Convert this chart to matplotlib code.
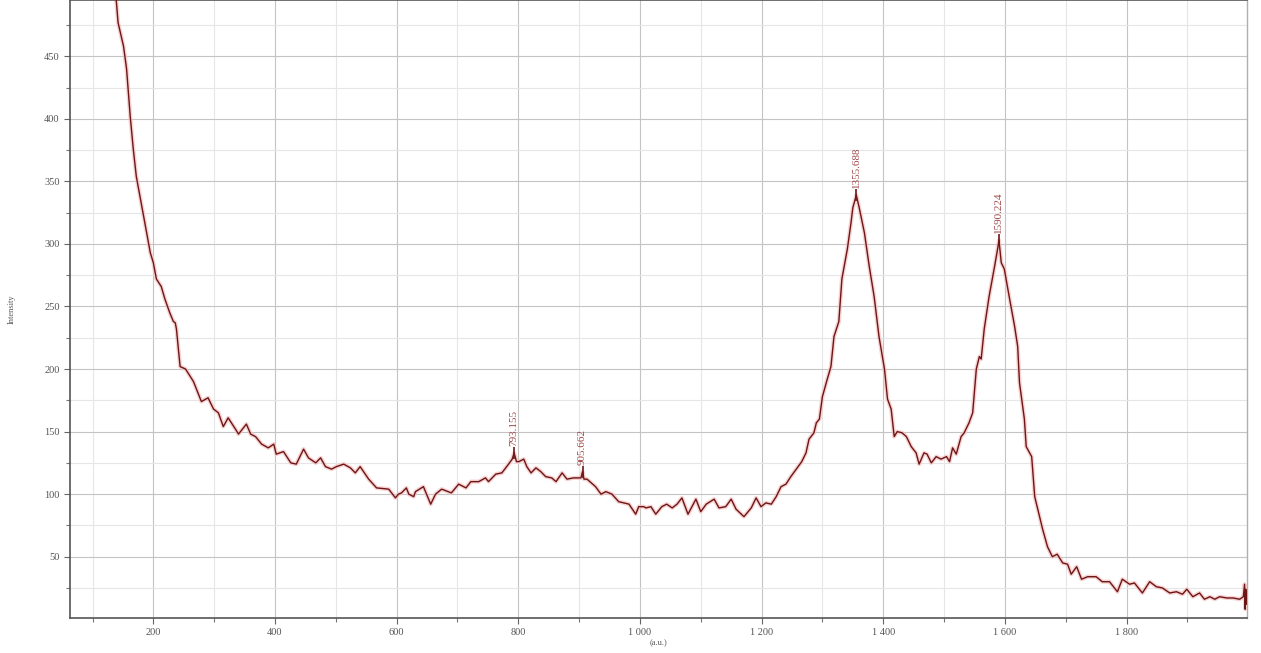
import matplotlib
matplotlib.use("Agg")
import matplotlib.pyplot as plt
from matplotlib.ticker import MultipleLocator, FuncFormatter

# Raman spectrum (wavenumber, intensity)
wavenumber = [
    130, 139, 142, 151, 156, 162, 167, 172, 180, 189, 195, 200, 205, 213, 219, 227, 233, 236, 238,
    244, 253, 266, 279, 290, 299, 307, 315, 323, 335, 340, 353, 360, 368, 378, 389, 398, 402, 414,
    426, 435, 447, 455, 467, 475, 483, 493, 501, 513, 524, 532, 540, 554, 567, 587, 598, 603, 608,
    616, 620, 628, 631, 644, 656, 664, 674, 690, 702, 714, 722, 735, 746, 751, 763, 773, 784, 790,
    793.155, 797, 801, 809, 814, 821, 829, 837, 845, 855, 862, 872, 880, 891, 903, 905.662, 908,
    913, 927, 936, 944, 954, 965, 982, 993, 998, 1006, 1010, 1018, 1026, 1036, 1044, 1053, 1061,
    1069, 1079, 1092, 1100, 1109, 1122, 1130, 1141, 1150, 1158, 1171, 1183, 1191, 1199, 1207, 1216,
    1224, 1232, 1240, 1248, 1257, 1266, 1273, 1278, 1286, 1290, 1295, 1300, 1308, 1314, 1319, 1327,
    1332, 1341, 1347, 1350, 1355.688, 1360, 1369, 1377, 1385, 1393, 1402, 1407, 1413, 1418, 1423,
    1431, 1438, 1446, 1454, 1459, 1467, 1472, 1479, 1487, 1495, 1504, 1509, 1514, 1520, 1528, 1533,
    1541, 1547, 1553, 1558, 1561, 1566, 1574, 1583, 1588, 1590.224, 1594, 1599, 1607, 1616, 1621,
    1624, 1632, 1635, 1644, 1649, 1654, 1662, 1670, 1678, 1686, 1695, 1703, 1709, 1718, 1726, 1736,
    1750, 1760, 1772, 1785, 1793, 1805, 1813, 1826, 1838, 1849, 1859, 1871, 1882, 1892, 1899, 1909,
    1920, 1928, 1937, 1945, 1953, 1965, 1975, 1986, 1992, 1994, 1995, 1996, 1997,
]
intensity = [
    540, 495, 477, 458, 440, 402, 376, 354, 333, 309, 293, 285, 272, 266, 256, 245, 238, 237, 232,
    202, 200, 190, 174, 177, 168, 165, 154, 161, 152, 148, 156, 148, 146, 140, 137, 140, 132, 134,
    125, 124, 136, 129, 125, 129, 122, 120, 122, 124, 121, 117, 122, 112, 105, 104, 97, 100, 101,
    105, 100, 98, 102, 106, 92, 100, 104, 101, 108, 105, 110, 110, 113, 110, 116, 117, 124, 128,
    133, 126, 126, 128, 122, 117, 121, 118, 114, 113, 110, 117, 112, 113, 113, 118, 112,
    112, 106, 100, 102, 100, 94, 92, 84, 90, 90, 89, 90, 84, 90, 92, 89, 92,
    97, 84, 96, 86, 92, 96, 89, 90, 96, 88, 82, 89, 97, 90, 93, 92,
    98, 106, 108, 114, 120, 126, 133, 144, 149, 157, 160, 178, 192, 202, 226, 238,
    272, 296, 317, 329, 339, 330, 309, 282, 258, 226, 200, 176, 168, 146, 150,
    149, 146, 138, 133, 124, 133, 132, 125, 130, 128, 130, 126, 137, 132, 146, 149,
    157, 165, 200, 210, 208, 232, 258, 282, 296, 303, 285, 280, 258, 234, 218,
    189, 160, 138, 130, 98, 88, 72, 58, 50, 52, 45, 44, 36, 42, 32, 34,
    34, 30, 30, 22, 32, 28, 29, 21, 30, 26, 25, 21, 22, 20, 24, 18,
    21, 16, 18, 16, 18, 17, 17, 16, 18, 28, 8, 24, 12,
]

peak_x = [793.155, 905.662, 1355.688, 1590.224]
peak_y = [133, 118, 339, 303]
peak_labels = ["793.155", "905.662", "1355.688", "1590.224"]

plt.rcParams['font.family'] = ['Liberation Serif', 'DejaVu Serif']

fig = plt.figure(figsize=(12.61, 6.53), dpi=100)
ax = fig.add_axes([70 / 1261, 35 / 653, 1177 / 1261, 618 / 653])

# light halo under the dark red trace
ax.plot(wavenumber, intensity, color='#f5c0c0', lw=3.0, alpha=0.7, zorder=2)
ax.plot(wavenumber, intensity, color='#6e1515', lw=1.0, zorder=3)

ax.plot(peak_x, peak_y, linestyle='none', marker='|', markersize=9,
        markeredgewidth=1.2, color='#6e1515', zorder=4)
for px, py, lab in zip(peak_x, peak_y, peak_labels):
    ax.annotate(lab, (px, py), xytext=(0, 7), textcoords='offset pixels',
                rotation=90, ha='center', va='bottom', fontsize=8,
                color='#a04848', zorder=5)

ax.set_xlim(63, 1998)
ax.set_ylim(1, 495)

ax.xaxis.set_major_locator(MultipleLocator(200))
ax.xaxis.set_minor_locator(MultipleLocator(100))
ax.yaxis.set_major_locator(MultipleLocator(50))
ax.yaxis.set_minor_locator(MultipleLocator(25))
ax.xaxis.set_major_formatter(FuncFormatter(lambda v, p: f"{int(v):,}".replace(",", " ")))
ax.yaxis.set_major_formatter(FuncFormatter(lambda v, p: f"{int(v)}"))

ax.grid(which='major', color='#c4c4c4', lw=0.8, zorder=0)
ax.grid(which='minor', color='#e6e6e6', lw=0.8, zorder=0)
ax.set_axisbelow(True)

ax.tick_params(which='major', direction='out', length=4, width=0.8,
               colors='#666666', labelsize=7.5, labelcolor='#555555')
ax.tick_params(which='minor', direction='out', length=3, width=0.8, colors='#777777')

for side in ['left', 'bottom', 'top']:
    ax.spines[side].set_color('#555555')
    ax.spines[side].set_linewidth(1.2)
ax.spines['right'].set_color('#b0b0b0')
ax.spines['right'].set_linewidth(1.0)

ax.set_ylabel('Intensity', fontsize=6, color='#555555', labelpad=20)
ax.set_xlabel('(a.u.)', fontsize=6, color='#555555', labelpad=1)

fig.savefig('out.png', dpi=100)
